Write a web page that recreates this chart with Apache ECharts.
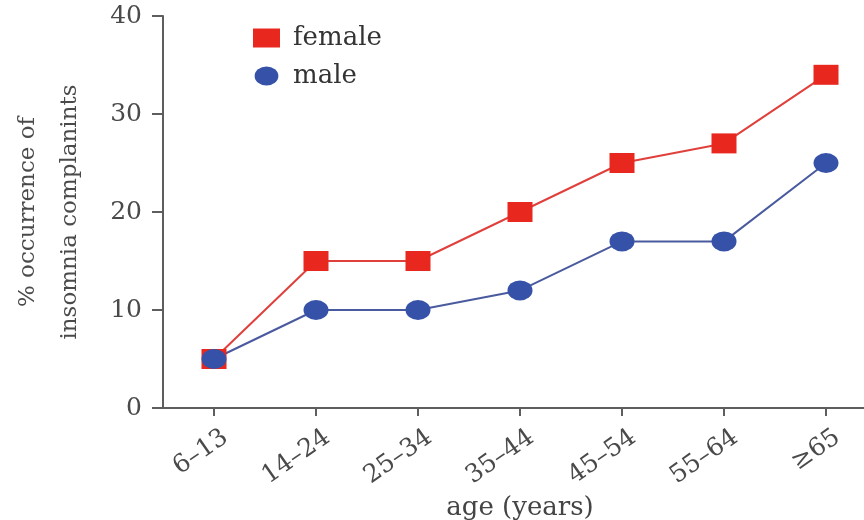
<!DOCTYPE html>
<html>
<head>
<meta charset="utf-8">
<script src="https://cdn.jsdelivr.net/npm/echarts@6/dist/echarts.min.js"></script>
<style>
  html, body { margin: 0; padding: 0; background: #fff; }
  #chart { width: 864px; height: 520px; }
</style>
</head>
<body>
<div id="chart"></div>
<script>
// 数据
var ageGroups = ['6\u201313', '14\u201324', '25\u201334', '35\u201344', '45\u201354', '55\u201364', '\u226565'];
var femaleData = [5, 15, 15, 20, 25, 27, 34];
var maleData = [5, 10, 10, 12, 17, 17, 25];
var yTicks = [0, 10, 20, 30, 40];

var font = 'DejaVu Serif';
var axisColor = '#5e5e5e';
// 椭圆图例图标
var ellipseIcon = 'path://M0,10 A12.5,10 0 1,0 25,10 A12.5,10 0 1,0 0,10 Z';

var chart = echarts.init(document.getElementById('chart'));
chart.setOption({
  animation: false,
  backgroundColor: '#fff',
  textStyle: { fontFamily: font },
  grid: {
    left: 163,
    top: 16,
    bottom: 112,
    width: 714,
    outerBoundsMode: 'none'
  },
  legend: {
    orient: 'vertical',
    left: 253,
    top: 25,
    padding: 0,
    itemWidth: 27,
    itemHeight: 19,
    itemGap: 12,
    selectedMode: false,
    data: [{ name: 'female', icon: 'rect' }, { name: 'male', icon: ellipseIcon }],
    textStyle: {
      fontFamily: font,
      fontSize: 26,
      color: '#333',
      padding: [0, 0, 0, 8]
    }
  },
  xAxis: {
    type: 'category',
    data: ageGroups,
    boundaryGap: true,
    name: 'age (years)',
    nameLocation: 'middle',
    nameGap: 86,
    nameTextStyle: { fontFamily: font, fontSize: 26, color: '#444' },
    axisLine: { show: true, lineStyle: { color: axisColor, width: 2 } },
    axisTick: {
      show: true,
      alignWithLabel: true,
      length: 8,
      lineStyle: { color: axisColor, width: 2 }
    },
    axisLabel: {
      rotate: 35,
      margin: 35,
      interval: 0,
      padding: [0, -14, 0, 0],
      fontFamily: font,
      fontSize: 25,
      color: '#4a4a4a'
    },
    splitLine: { show: false }
  },
  yAxis: {
    type: 'value',
    min: yTicks[0],
    max: yTicks[yTicks.length - 1],
    interval: 10,
    name: '% occurrence of\ninsomnia complanints',
    nameLocation: 'middle',
    nameGap: 72,
    nameTextStyle: { fontFamily: font, fontSize: 23, color: '#4a4a4a', lineHeight: 42 },
    axisLine: { show: true, lineStyle: { color: axisColor, width: 2 } },
    axisTick: { show: true, length: 11, lineStyle: { color: axisColor, width: 2 } },
    axisLabel: {
      margin: 21,
      fontFamily: font,
      fontSize: 25,
      color: '#4a4a4a'
    },
    splitLine: { show: false }
  },
  series: [
    {
      name: 'female',
      type: 'line',
      data: femaleData,
      symbol: 'rect',
      symbolSize: [25, 20],
      lineStyle: { color: '#e0403c', width: 2 },
      itemStyle: { color: '#e8271f' }
    },
    {
      name: 'male',
      type: 'line',
      data: maleData,
      symbol: 'circle',
      symbolSize: [25, 20],
      lineStyle: { color: '#4a5a9e', width: 2 },
      itemStyle: { color: '#3652a8' }
    }
  ]
});
</script>
</body>
</html>
